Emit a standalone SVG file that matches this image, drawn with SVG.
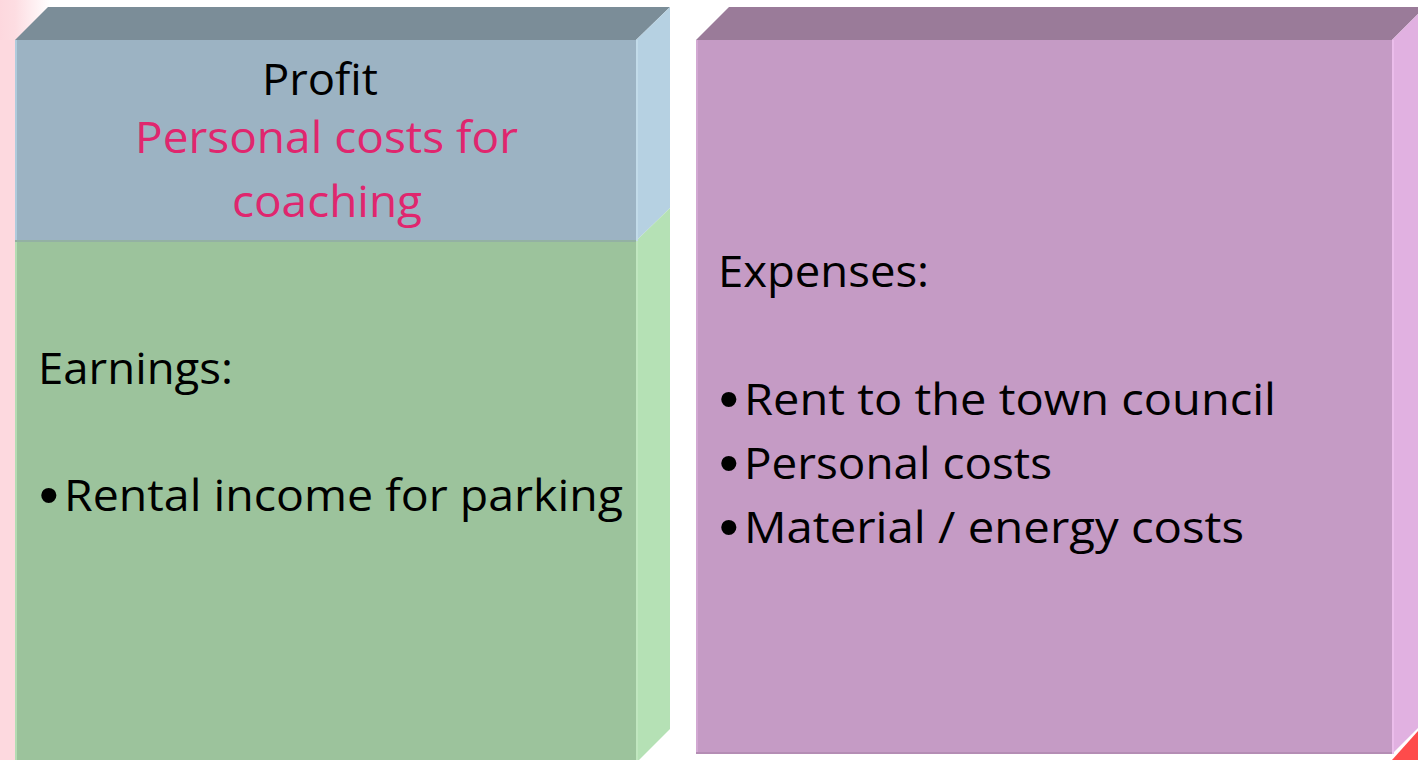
<svg xmlns="http://www.w3.org/2000/svg" width="1418" height="760" viewBox="0 0 1418 760">
  <defs>
    <linearGradient id="pinkFade" x1="0" y1="0" x2="50" y2="0" gradientUnits="userSpaceOnUse">
      <stop offset="0" stop-color="#fdd8de"/>
      <stop offset="0.3" stop-color="#fddde2"/>
      <stop offset="1" stop-color="#ffffff"/>
    </linearGradient>
  </defs>
  <style>
    text { font-family: "Open Sans", "Liberation Sans", sans-serif; }
    .lbl { font-size: 44px; fill: #000000; }
    .pink { fill: #e0266e; }
    .bul { font-family: "Liberation Sans", sans-serif; font-size: 56px; fill: #000000; }
  </style>
  <rect x="0" y="0" width="1418" height="760" fill="#ffffff"/>
  <g id="backdrop">
    <rect x="0" y="0" width="50" height="760" fill="url(#pinkFade)"/>
    <rect x="0" y="40" width="16" height="720" fill="#fdd9df"/>
    <polygon points="1392,760 1418,731 1418,760" fill="#fe4b4b"/>
  </g>
  <g id="profit-earnings">
    <polygon points="15,40 48,7 670,7 636,40" fill="#7b8d98"/>
    <rect x="15" y="40" width="621" height="201" fill="#9cb3c3"/>
    <polygon points="636,40 670,7 670,208 636,241" fill="#b6d1e2"/>
    <rect x="15" y="241" width="621" height="525" fill="#9cc39c"/>
    <polygon points="636,241 670,208 670,729 636,763" fill="#b5e1b5"/>
    <line x1="16" y1="40" x2="16" y2="241" stroke="#b0cbdc" stroke-width="2"/>
    <line x1="16" y1="241" x2="16" y2="760" stroke="#b5dcb4" stroke-width="2"/>
    <line x1="637" y1="40" x2="637" y2="241" stroke="#c2dbe9" stroke-width="2"/>
    <line x1="637" y1="241" x2="637" y2="760" stroke="#c0e6bf" stroke-width="2"/>
    <line x1="15" y1="241" x2="636" y2="241" stroke="#93b1a3" stroke-width="2"/>
    <text class="lbl" x="262" y="95" font-size="46" textLength="116" lengthAdjust="spacingAndGlyphs">Profit</text>
    <text class="lbl pink" x="135" y="153" textLength="383" lengthAdjust="spacingAndGlyphs">Personal costs for</text>
    <text class="lbl pink" x="232" y="217" textLength="190" lengthAdjust="spacingAndGlyphs">coaching</text>
    <text class="lbl" x="38" y="384" textLength="195" lengthAdjust="spacingAndGlyphs">Earnings:</text>
    <text class="bul" x="39" y="514">•</text>
    <text class="lbl" x="64" y="511" textLength="559" lengthAdjust="spacingAndGlyphs">Rental income for parking</text>
  </g>
  <g id="expenses">
    <polygon points="696,40 729,7 1425,7 1392,40" fill="#9a7b99"/>
    <rect x="696" y="40" width="696" height="714" fill="#c59bc5"/>
    <polygon points="1392,40 1425,7 1425,721 1392,754" fill="#e1b1e1"/>
    <line x1="697" y1="40" x2="697" y2="754" stroke="#d2a8d2" stroke-width="2"/>
    <line x1="1393" y1="40" x2="1393" y2="754" stroke="#ebbdeb" stroke-width="2"/>
    <line x1="696" y1="753" x2="1392" y2="753" stroke="#b48db4" stroke-width="2"/>
    <text class="lbl" x="718" y="287" textLength="211" lengthAdjust="spacingAndGlyphs">Expenses:</text>
    <text class="bul" x="719" y="418">•</text>
    <text class="lbl" x="744" y="415" textLength="532" lengthAdjust="spacingAndGlyphs">Rent to the town council</text>
    <text class="bul" x="719" y="482">•</text>
    <text class="lbl" x="744" y="479" textLength="308" lengthAdjust="spacingAndGlyphs">Personal costs</text>
    <text class="bul" x="719" y="546">•</text>
    <text class="lbl" x="744" y="543" textLength="500" lengthAdjust="spacingAndGlyphs">Material / energy costs</text>
  </g>
  <g id="connectors"/>
</svg>
